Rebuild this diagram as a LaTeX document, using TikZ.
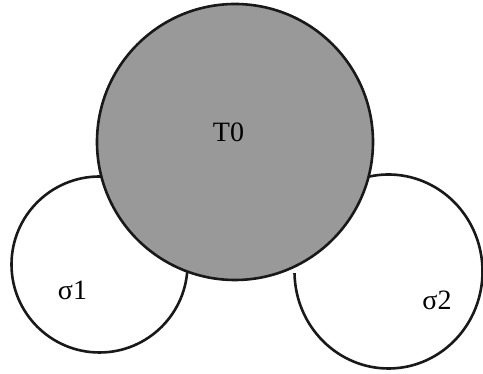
\documentclass[tikz,border=0pt]{standalone}
\usepackage{fontspec}
\setmainfont{Liberation Serif}
\usepackage{tikz}

\begin{document}
\begin{tikzpicture}[x=1pt, y=1pt,
  font=\fontsize{28}{32}\selectfont,
  rim/.style={draw=black!90, line width=2.6pt},
  lbl/.style={anchor=base, inner sep=0pt}]
\useasboundingbox (0,0) rectangle (483,374);
% the two small regions
\draw[rim] (99.5,109.5) circle (88);
\draw[rim] (388.5,102.5) ++(181:94 and 97) arc[start angle=181, end angle=470,
  x radius=94, y radius=97];
% the shaded one on top
\draw[rim, fill=black!40] (235,232) circle (138);
\node[lbl] (t0) at (228.5,232) {T0};
\node[lbl] (s1) at (72.5,74) {σ1};
\node[lbl] (s2) at (437,64) {σ2};
\end{tikzpicture}
\end{document}
